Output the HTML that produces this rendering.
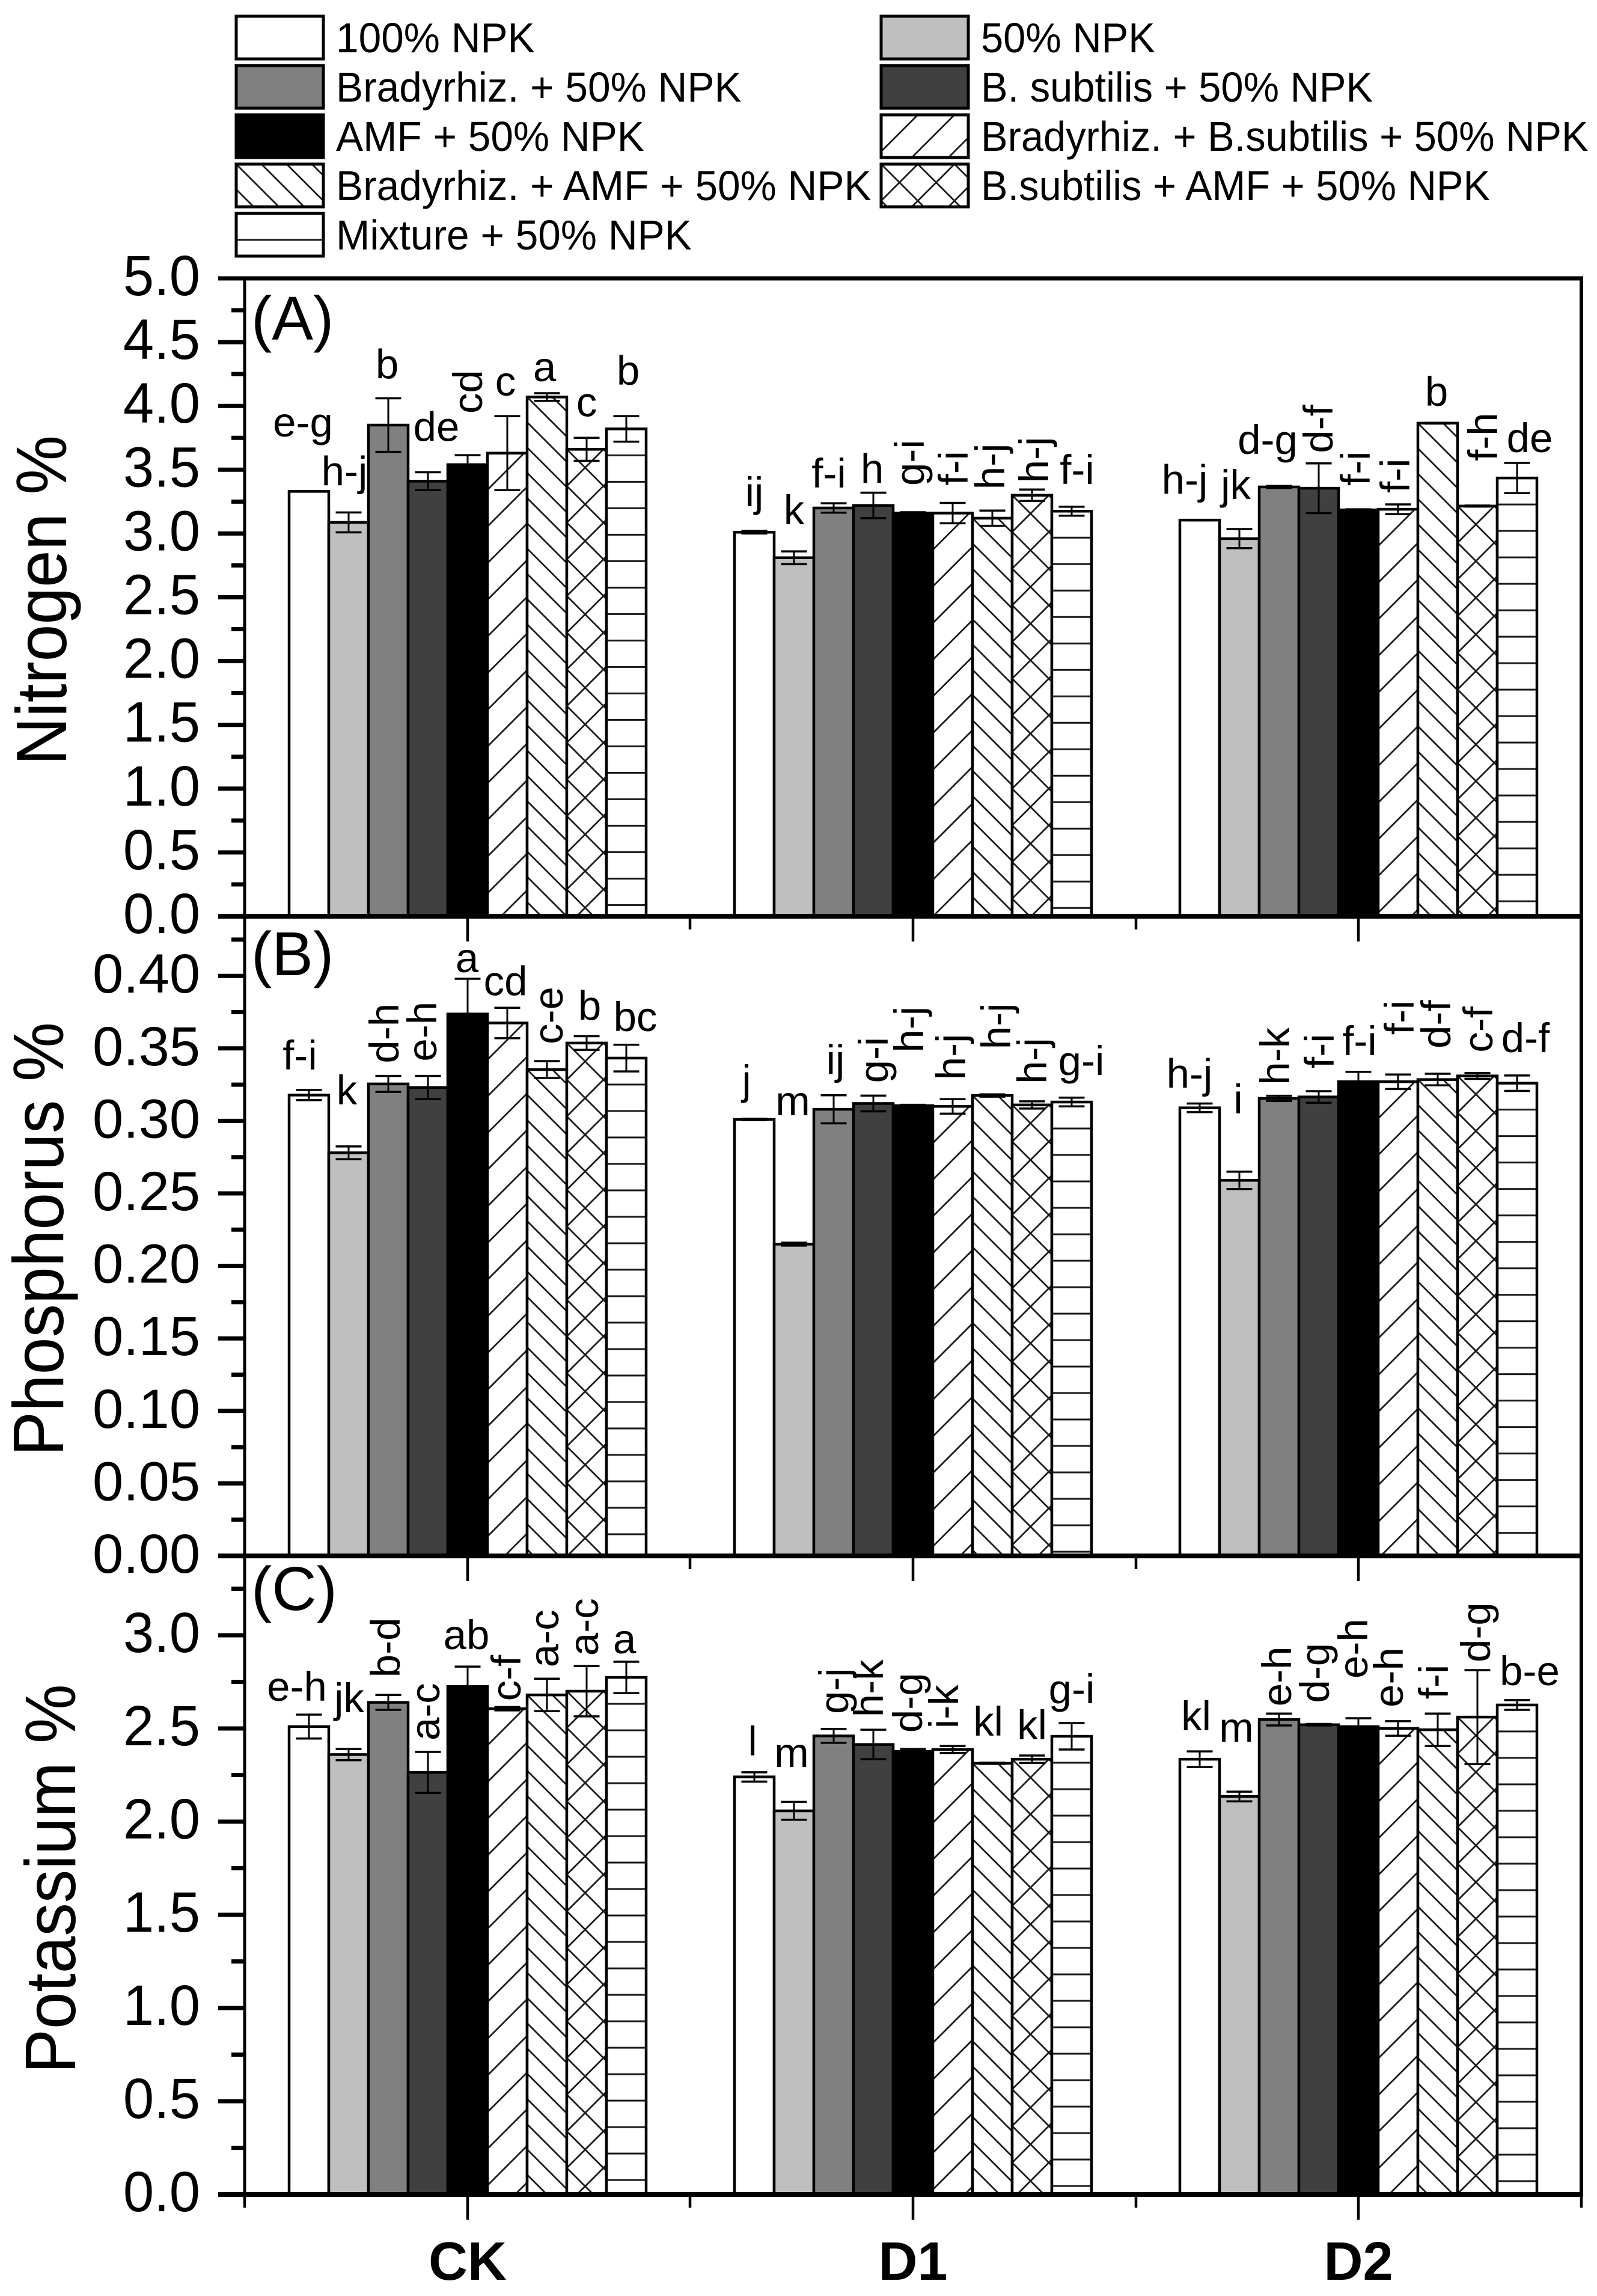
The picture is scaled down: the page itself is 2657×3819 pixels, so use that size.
<!DOCTYPE html>
<html lang="en">
<head>
<meta charset="utf-8">
<title>Nitrogen, phosphorus and potassium by treatment</title>
<style>
html,body{margin:0;padding:0;background:#fff;}
#chart{display:block;width:2657px;height:3819px;}
text{font-family:"Liberation Sans",sans-serif;fill:#000;}
</style>
</head>
<body>
<svg id="chart" xmlns="http://www.w3.org/2000/svg" width="2657" height="3819" viewBox="0 0 2657 3819"></svg>
<script>
const groups = ['CK', 'D1', 'D2'];
const treatments = ['100% NPK', 'Bradyrhiz. + 50% NPK', 'AMF + 50% NPK', 'Bradyrhiz. + AMF + 50% NPK', 'Mixture + 50% NPK', '50% NPK', 'B. subtilis + 50% NPK', 'Bradyrhiz. + B.subtilis + 50% NPK', 'B.subtilis + AMF + 50% NPK'];

const nitrogenTicks = ['0.0', '0.5', '1.0', '1.5', '2.0', '2.5', '3.0', '3.5', '4.0', '4.5', '5.0'];
const phosphorusTicks = ['0.00', '0.05', '0.10', '0.15', '0.20', '0.25', '0.30', '0.35', '0.40'];
const potassiumTicks = ['0.0', '0.5', '1.0', '1.5', '2.0', '2.5', '3.0'];

const nitrogenCK = [3.33, 3.087, 3.85, 3.41, 3.54, 3.63, 4.07, 3.66, 3.82];
const nitrogenD1 = [3.01, 2.81, 3.2, 3.22, 3.16, 3.16, 3.12, 3.3, 3.175];
const nitrogenD2 = [3.105, 2.96, 3.365, 3.355, 3.185, 3.19, 3.865, 3.215, 3.435];
const nitrogenErrCK = [0.001, 0.078, 0.21, 0.07, 0.074, 0.29, 0.03, 0.09, 0.1];
const nitrogenErrD1 = [0.01, 0.05, 0.037, 0.1, 0.007, 0.08, 0.06, 0.045, 0.035];
const nitrogenErrD2 = [0.002, 0.075, 0.008, 0.195, 0.005, 0.038, 0.003, 0.004, 0.118];
const nitrogenLettersCK = ['e-g', 'h-j', 'b', 'de', 'cd', 'c', 'a', 'c', 'b'];
const nitrogenLettersD1 = ['ij', 'k', 'f-i', 'h', 'g-i', 'f-i', 'h-j', 'h-j', 'f-i'];
const nitrogenLettersD2 = ['h-j', 'jk', 'd-g', 'd-f', 'f-i', 'f-i', 'b', 'f-h', 'de'];

const phosphorusCK = [0.3178, 0.278, 0.3255, 0.323, 0.3737, 0.3675, 0.3354, 0.3537, 0.3433];
const phosphorusD1 = [0.301, 0.215, 0.308, 0.312, 0.3105, 0.31, 0.3175, 0.311, 0.313];
const phosphorusD2 = [0.309, 0.259, 0.3155, 0.3165, 0.327, 0.327, 0.3285, 0.331, 0.326];
const phosphorusErrCK = [0.0035, 0.0044, 0.0055, 0.008, 0.0243, 0.0105, 0.0058, 0.0047, 0.0092];
const phosphorusErrD1 = [0.0005, 0.001, 0.0097, 0.0054, 0.0006, 0.005, 0.0008, 0.0025, 0.003];
const phosphorusErrD2 = [0.003, 0.006, 0.0018, 0.004, 0.0068, 0.005, 0.004, 0.002, 0.0053];
const phosphorusLettersCK = ['f-i', 'k', 'd-h', 'e-h', 'a', 'cd', 'c-e', 'b', 'bc'];
const phosphorusLettersD1 = ['j', 'm', 'ij', 'g-i', 'h-j', 'h-j', 'h-j', 'h-j', 'g-i'];
const phosphorusLettersD2 = ['h-j', 'i', 'h-k', 'f-i', 'f-i', 'f-i', 'd-f', 'c-f', 'd-f'];

const potassiumCK = [2.51, 2.36, 2.64, 2.264, 2.725, 2.606, 2.68, 2.7, 2.774];
const potassiumD1 = [2.24, 2.058, 2.46, 2.414, 2.377, 2.387, 2.313, 2.335, 2.458];
const potassiumD2 = [2.335, 2.135, 2.548, 2.52, 2.51, 2.5, 2.493, 2.561, 2.626];
const potassiumErrCK = [0.064, 0.03, 0.04, 0.11, 0.107, 0.009, 0.087, 0.135, 0.084];
const potassiumErrD1 = [0.025, 0.048, 0.037, 0.079, 0.013, 0.019, 0.003, 0.02, 0.071];
const potassiumErrD2 = [0.042, 0.026, 0.032, 0.004, 0.045, 0.039, 0.087, 0.252, 0.026];
const potassiumLettersCK = ['e-h', 'jk', 'b-d', 'a-c', 'ab', 'c-f', 'a-c', 'a-c', 'a'];
const potassiumLettersD1 = ['l', 'm', 'g-j', 'h-k', 'd-g', 'i-k', 'kl', 'kl', 'g-i'];
const potassiumLettersD2 = ['kl', 'm', 'e-h', 'd-g', 'e-h', 'e-h', 'f-i', 'd-g', 'b-e'];

/* ---------- layout (not data) ---------- */
const svg = document.getElementById('chart');
const NS = 'http://www.w3.org/2000/svg';
const X_CENTER = [778, 1519, 2260];
const X_MINOR = [407, 1148, 1890, 2631];
const BAR_W = 66;
const FRAME_L = 407, FRAME_R = 2631;
const fills = ['#ffffff', '#bfbfbf', '#808080', '#404040', '#000000', 'slash', 'back', 'cross', 'horiz'];
const barNames = ['100-npk', '50-npk', 'bradyrhiz', 'subtilis', 'amf', 'bradyrhiz-subtilis', 'bradyrhiz-amf', 'subtilis-amf', 'mixture'];
/* letter placement per bar: [x nudge, lift above the error cap, rotated?] */
const nudgeA = [
  [[-10,91,0],[-7,45,0],[-2,33,0],[14,52,0],[24,69,1],[-3,34,0],[-4,20,0],[0,36,0],[3,52,0]],
  [[0,41,0],[0,45,0],[-8,26,0],[-2,16,0],[18,44,1],[25,29,1],[20,35,1],[27,11,1],[9,38,0]],
  [[-25,43,0],[-6,50,0],[-19,53,0],[23,17,1],[19,39,1],[19,19,1],[-2,28,0],[33,74,1],[21,18,0]]
];
const nudgeB = [
  [[-15,34,0],[-3,70,0],[17,21,1],[14,24,1],[-1,11,0],[-3,21,0],[26,28,1],[5,27,0],[15,23,0]],
  [[-13,41,0],[-2,212,0],[3,35,0],[24,21,1],[17,87,1],[21,32,1],[30,75,1],[24,29,1],[16,38,0]],
  [[-17,26,0],[-2,97,0],[17,18,1],[25,38,1],[2,28,0],[26,66,1],[21,42,1],[25,34,1],[14,39,0]]
];
const nudgeC = [
  [[-20,23,0],[1,61,0],[19,29,1],[19,19,1],[-2,29,0],[22,10,1],[19,19,1],[19,17,1],[-3,14,0]],
  [[-3,28,0],[-4,58,0],[24,25,1],[16,21,1],[15,27,1],[9,29,1],[-7,45,0],[0,27,0],[0,33,0]],
  [[-6,35,0],[-5,83,0],[20,12,1],[17,35,1],[15,66,1],[8,23,1],[17,24,1],[21,13,1],[21,25,0]]
];

const panels = [
  {id:'nitrogen', title:'Nitrogen %', tag:'(A)', top:463, bottom:1524, pxPerUnit:212.2, step:0.5, minorMax:4.75, ticks:nitrogenTicks, tickFont:95, tickScale:0.97,
   vals:[nitrogenCK,nitrogenD1,nitrogenD2], errs:[nitrogenErrCK,nitrogenErrD1,nitrogenErrD2], letters:[nitrogenLettersCK,nitrogenLettersD1,nitrogenLettersD2], nudge:nudgeA, tagY:565, titleX:110, titleY:1273},
  {id:'phosphorus', title:'Phosphorus %', tag:'(B)', top:1524, bottom:2588, pxPerUnit:2412, step:0.05, minorMax:0.425, ticks:phosphorusTicks, tickFont:92, tickScale:1,
   vals:[phosphorusCK,phosphorusD1,phosphorusD2], errs:[phosphorusErrCK,phosphorusErrD1,phosphorusErrD2], letters:[phosphorusLettersCK,phosphorusLettersD1,phosphorusLettersD2], nudge:nudgeB, tagY:1622, titleX:105, titleY:2422},
  {id:'potassium', title:'Potassium %', tag:'(C)', top:2588, bottom:3650, pxPerUnit:310, step:0.5, minorMax:3.25, ticks:potassiumTicks, tickFont:95, tickScale:0.97,
   vals:[potassiumCK,potassiumD1,potassiumD2], errs:[potassiumErrCK,potassiumErrD1,potassiumErrD2], letters:[potassiumLettersCK,potassiumLettersD1,potassiumLettersD2], nudge:nudgeC, tagY:2678, titleX:125, titleY:3449}
];

function make(tag, attrs, parent) {
  const el = document.createElementNS(NS, tag);
  for (const k in attrs) el.setAttribute(k, attrs[k]);
  (parent || svg).appendChild(el);
  return el;
}
function line(x1, y1, x2, y2, w, parent) {
  return make('line', {x1:x1, y1:y1, x2:x2, y2:y2, stroke:'#000', 'stroke-width':w}, parent);
}
const defs = make('defs', {});
let patternCount = 0;
function hatchFill(kind, left, top) {
  const id = 'hatch-' + (patternCount++);
  const size = kind === 'back' ? 42 : kind === 'horiz' ? 44 : 61;
  const p = make('pattern', {id:id, patternUnits:'userSpaceOnUse', x:left, y:top, width:size, height:size}, defs);
  make('rect', {x:0, y:0, width:size, height:size, fill:'#fff'}, p);
  const s = size;
  const slash = `M-6,6L6,-6M0,${s}L${s},0M${s-6},${s+6}L${s+6},${s-6}`;
  const back = `M-6,-6L${s+6},${s+6}M${s-6},-6L${s+6},6M-6,${s-6}L6,${s+6}`;
  let d = '';
  if (kind === 'slash') d = slash;
  if (kind === 'back') d = back;
  if (kind === 'cross') d = slash + back;
  if (kind === 'horiz') d = `M-2,${s}H${s+2}M-2,0H${s+2}`;
  make('path', {d:d, stroke:'#1a1a1a', 'stroke-width':kind === 'horiz' ? 3 : 2.8, fill:'none'}, p);
  return 'url(#' + id + ')';
}
function fillFor(kind, left, top) {
  return kind.charAt(0) === '#' ? kind : hatchFill(kind, left, top);
}

/* ---------- legend ---------- */
const legend = make('g', {});


const legendFills = ['#ffffff', '#808080', '#000000', 'back', 'horiz', '#bfbfbf', '#404040', 'slash', 'cross'];
treatments.forEach(function (name, i) {
  const col = i < 5 ? 0 : 1;
  const row = col === 0 ? i : i - 5;
  const sx = col === 0 ? 393 : 1466;
  const sy = 27 + row * 82;
  const entry = make('g', {}, legend);
  
  
  const sw = make('rect', {x:sx, y:sy, width:145, height:71, fill:fillFor(legendFills[i], sx, sy), stroke:'#000', 'stroke-width':5}, entry);
  
  
  const tx = col === 0 ? 559 : 1632;
  const ty = 87 + row * 82;
  const sc = col === 0 ? 0.966 : 0.955;
  const t = make('text', {'font-size':70, transform:'translate(' + tx + ' ' + ty + ') scale(' + sc + ' 1)'}, entry);
  t.textContent = name;
  
  
});

/* ---------- panels ---------- */
panels.forEach(function (p) {
  const y = function (v) { return p.bottom - v * p.pxPerUnit; };
  const g = make('g', {});
  
  

  groups.forEach(function (group, gi) {
    const values = p.vals[gi], errors = p.errs[gi], letters = p.letters[gi];
    const barLayer = make('g', {}, g);
    
    
    values.forEach(function (v, i) {
      const cx = X_CENTER[gi] + (i - 4) * BAR_W;
      const left = cx - BAR_W / 2;
      const top = y(v);
      const bar = make('rect', {x:left, y:top, width:BAR_W, height:p.bottom - top, fill:fillFor(fills[i], left, top), stroke:'#000', 'stroke-width':4.5}, barLayer);
      
      
    });
    values.forEach(function (v, i) {
      const cx = X_CENTER[gi] + (i - 4) * BAR_W;
      const e = errors[i];
      const err = make('g', {}, barLayer);
      
      
      line(cx, y(v + e), cx, y(v - e), 3, err);
      line(cx - 21.5, y(v + e), cx + 21.5, y(v + e), 3.5, err);
      line(cx - 21.5, y(v - e), cx + 21.5, y(v - e), 3.5, err);
      const nudge = p.nudge[gi][i];
      const capY = y(v + e);
      const ly = capY - nudge[1];
      const lx = cx + nudge[0];
      const label = make('text', nudge[2]
        ? {x:lx, y:ly, 'font-size':69, transform:'rotate(-90 ' + lx + ' ' + ly + ')'}
        : {x:lx, y:ly, 'font-size':69, 'text-anchor':'middle'}, g);
      label.textContent = letters[i];
      
      
    });
  });

  /* y axis ticks */
  const yAxis = make('g', {}, g);
  
  
  p.ticks.forEach(function (label, i) {
    const v = i * p.step;
    line(FRAME_L - 44, y(v), FRAME_L, y(v), 7, yAxis);
    const t = make('text', {'font-size':p.tickFont, 'text-anchor':'end', transform:'translate(333 ' + (y(v) + 28) + ') scale(' + p.tickScale + ' 1)'}, yAxis);
    t.textContent = label;
    
    
  });
  for (let k = 0; (k + 0.5) * p.step <= p.minorMax + 1e-9; k++) {
    const v = (k + 0.5) * p.step;
    line(FRAME_L - 22, y(v), FRAME_L, y(v), 7, yAxis);
  }

  /* frame */
  const frame = make('g', {}, g);
  
  
  line(FRAME_L, p.top - 3, FRAME_L, p.bottom + 3, 5, frame);
  line(FRAME_R, p.top - 3, FRAME_R, p.bottom + 3, 6, frame);
  line(FRAME_L - 44, p.top, FRAME_R + 3, p.top, 7, frame);
  line(FRAME_L - 44, p.bottom, FRAME_R + 3, p.bottom, 8, frame);

  /* x ticks */
  const xAxis = make('g', {}, g);
  
  
  X_CENTER.forEach(function (x) { line(x, p.bottom, x, p.bottom + 42, 4.5, xAxis); });
  X_MINOR.forEach(function (x) { line(x, p.bottom, x, p.bottom + 22, 4.5, xAxis); });

  const tag = make('text', {x:418, y:p.tagY, 'font-size':103}, g);
  tag.textContent = p.tag;
  
  

  const title = make('text', {'font-size':111, transform:'translate(' + p.titleX + ' ' + p.titleY + ') rotate(-90) scale(1 1.07)'}, g);
  title.textContent = p.title;
  
  
});

/* ---------- category labels ---------- */
groups.forEach(function (group, gi) {
  const t = make('text', {x:X_CENTER[gi], y:3792, 'font-size':90, 'font-weight':'bold', 'text-anchor':'middle'});
  t.textContent = group;
  
  
});
</script>
</body>
</html>
